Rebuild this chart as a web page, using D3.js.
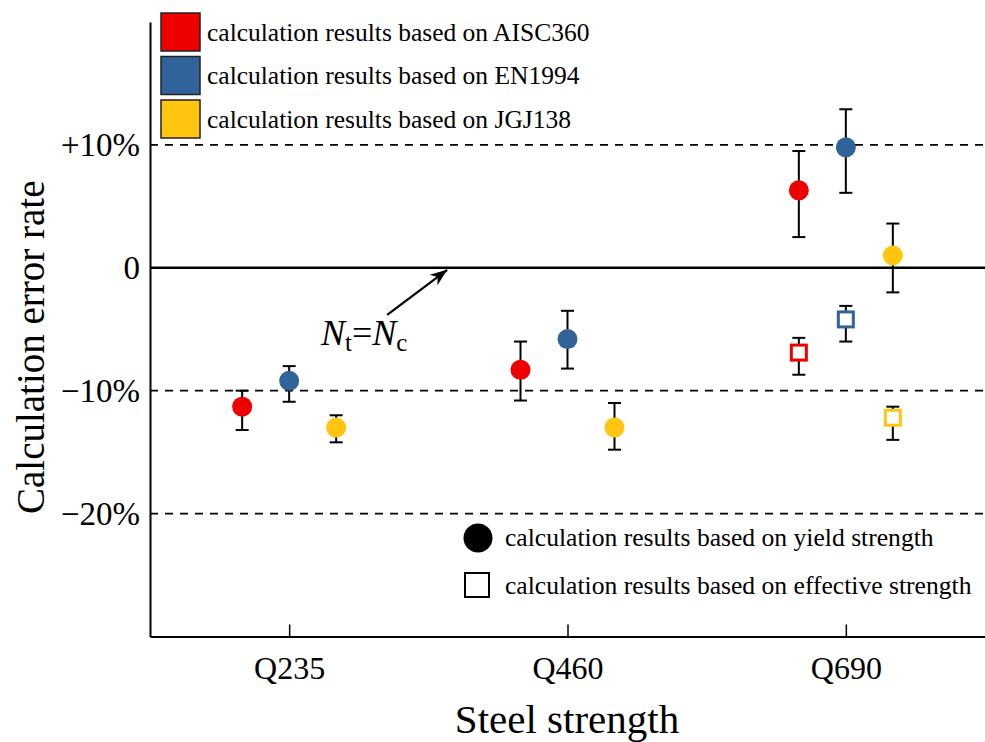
<!DOCTYPE html>
<html>
<head>
<meta charset="utf-8">
<script src="https://cdn.jsdelivr.net/npm/d3@7"></script>
<style>
  html, body { margin: 0; padding: 0; background: #fff; }
  svg { display: block; }
  text { font-family: "Liberation Serif", "Times New Roman", serif; fill: #000; }
</style>
</head>
<body>
<svg id="chart" width="985" height="742"></svg>
<script>
// Steel grades along the x axis
const categories = ["Q235", "Q460", "Q690"];
// Design codes compared at each grade
const codes = ["AISC360", "EN1994", "JGJ138"];
const codeColors = ["#ee0000", "#31639b", "#ffc50f"];
const legendLabels = [
  "calculation results based on AISC360",
  "calculation results based on EN1994",
  "calculation results based on JGJ138"
];

// Error rate (%) using yield strength: mean, lower and upper bound per grade
const yieldAISC360 = [-11.3, -8.3, 6.3];
const yieldAISC360Low = [-13.2, -10.8, 2.5];
const yieldAISC360High = [-10.0, -6.0, 9.5];

const yieldEN1994 = [-9.2, -5.8, 9.8];
const yieldEN1994Low = [-10.9, -8.2, 6.1];
const yieldEN1994High = [-8.0, -3.5, 12.9];

const yieldJGJ138 = [-13.0, -13.0, 1.0];
const yieldJGJ138Low = [-14.2, -14.8, -2.0];
const yieldJGJ138High = [-12.0, -11.0, 3.6];

// Error rate (%) using effective strength (Q690 only)
const effCategory = "Q690";
const effValues = [-6.9, -4.2, -12.2];
const effLow = [-8.7, -6.0, -14.0];
const effHigh = [-5.7, -3.1, -11.3];

// Y axis ticks
const yTickValues = [-20, -10, 0, 10];
const yTickLabels = ["\u221220%", "\u221210%", "0", "+10%"];
const dashedLevels = [-20, -10, 10];

const markerLegend = [
  "calculation results based on yield strength",
  "calculation results based on effective strength"
];

const yieldSeries = [
  { code: codes[0], v: yieldAISC360, lo: yieldAISC360Low, hi: yieldAISC360High },
  { code: codes[1], v: yieldEN1994, lo: yieldEN1994Low, hi: yieldEN1994High },
  { code: codes[2], v: yieldJGJ138, lo: yieldJGJ138Low, hi: yieldJGJ138High }
];

const svg = d3.select("#chart");
const plotLeft = 150, plotRight = 985, plotTop = 22, plotBottom = 636.5;

const x = d3.scalePoint().domain(categories).range([plotLeft, plotRight]).padding(0.5);
const sub = d3.scalePoint().domain(codes).range([-47, 47]);
const y = d3.scaleLinear().domain([-30, 20]).range([plotBottom, plotTop]);
const color = d3.scaleOrdinal().domain(codes).range(codeColors);

// Reference lines
svg.append("g").selectAll("line").data(dashedLevels).join("line")
  .attr("x1", plotLeft).attr("x2", plotRight)
  .attr("y1", d => y(d)).attr("y2", d => y(d))
  .attr("stroke", "#000").attr("stroke-width", 1.8)
  .attr("stroke-dasharray", "8,7");

svg.append("line")
  .attr("x1", plotLeft).attr("x2", plotRight)
  .attr("y1", y(0)).attr("y2", y(0))
  .attr("stroke", "#000").attr("stroke-width", 2.5);

// Axes
const yAxis = d3.axisLeft(y)
  .tickValues(yTickValues)
  .tickFormat((d, i) => yTickLabels[i])
  .tickSize(0).tickSizeOuter(0).tickPadding(10);
const gy = svg.append("g").attr("transform", `translate(${plotLeft},0)`).call(yAxis);
gy.select(".domain").attr("stroke", "#000").attr("stroke-width", 2);
gy.selectAll("text").style("font-family", "Liberation Serif, Times New Roman, serif")
  .style("font-size", "33px");

const xAxis = d3.axisBottom(x).tickSize(-12).tickSizeOuter(0).tickPadding(20);
const gx = svg.append("g").attr("transform", `translate(0,${plotBottom})`).call(xAxis);
gx.select(".domain").attr("stroke", "#000").attr("stroke-width", 2);
gx.selectAll(".tick line").attr("stroke", "#000").attr("stroke-width", 1.5);
gx.selectAll("text").style("font-family", "Liberation Serif, Times New Roman, serif")
  .style("font-size", "32px");

// Axis titles
svg.append("text")
  .attr("transform", `translate(44,${(y(-20) + y(10)) / 2 + 18}) rotate(-90)`)
  .attr("text-anchor", "middle")
  .style("font-size", "39px")
  .text("Calculation error rate");

svg.append("text")
  .attr("x", (plotLeft + plotRight) / 2 - 0.5).attr("y", 733)
  .attr("text-anchor", "middle")
  .style("font-size", "41px")
  .text("Steel strength");

// Error bars
const capHalf = 6.5;
function errorBar(g, cx, lo, hi) {
  g.append("line").attr("x1", cx).attr("x2", cx)
    .attr("y1", y(lo)).attr("y2", y(hi));
  g.append("line").attr("x1", cx - capHalf).attr("x2", cx + capHalf)
    .attr("y1", y(lo)).attr("y2", y(lo));
  g.append("line").attr("x1", cx - capHalf).attr("x2", cx + capHalf)
    .attr("y1", y(hi)).attr("y2", y(hi));
}

const bars = svg.append("g").attr("stroke", "#000").attr("stroke-width", 2);
yieldSeries.forEach(s => {
  categories.forEach((c, i) => errorBar(bars, x(c) + sub(s.code), s.lo[i], s.hi[i]));
});
codes.forEach((code, i) => errorBar(bars, x(effCategory) + sub(code), effLow[i], effHigh[i]));

// Yield-strength markers (filled circles)
const circles = svg.append("g");
yieldSeries.forEach(s => {
  circles.selectAll(null).data(categories).join("circle")
    .attr("cx", c => x(c) + sub(s.code))
    .attr("cy", (c, i) => y(s.v[i]))
    .attr("r", 10)
    .attr("fill", color(s.code));
});

// Effective-strength markers (hollow squares)
const side = 15;
svg.append("g").selectAll("rect").data(codes).join("rect")
  .attr("x", d => x(effCategory) + sub(d) - side / 2)
  .attr("y", (d, i) => y(effValues[i]) - side / 2)
  .attr("width", side).attr("height", side)
  .attr("fill", "#fff")
  .attr("stroke", d => color(d))
  .attr("stroke-width", 3);

// Colour legend
const leg = svg.append("g");
codes.forEach((code, i) => {
  const ly = 13 + i * 43.5;
  leg.append("rect").attr("x", 161).attr("y", ly).attr("width", 39).attr("height", 38)
    .attr("fill", color(code)).attr("stroke", "#222").attr("stroke-width", 1.5);
  leg.append("text").attr("x", 207).attr("y", ly + 27.5)
    .style("font-size", "25.5px").text(legendLabels[i]);
});

// Marker legend
const mleg = svg.append("g");
mleg.append("circle").attr("cx", 478).attr("cy", 538).attr("r", 14.5).attr("fill", "#000");
mleg.append("text").attr("x", 505).attr("y", 546).style("font-size", "25.6px").text(markerLegend[0]);
mleg.append("rect").attr("x", 465).attr("y", 573).attr("width", 24).attr("height", 24)
  .attr("fill", "#fff").attr("stroke", "#000").attr("stroke-width", 2);
mleg.append("text").attr("x", 505).attr("y", 594).style("font-size", "25.6px").text(markerLegend[1]);

// Annotation of the zero line
svg.append("defs").append("marker")
  .attr("id", "arrowHead")
  .attr("markerUnits", "userSpaceOnUse")
  .attr("viewBox", "-18 -8 20 16")
  .attr("markerWidth", 20).attr("markerHeight", 16)
  .attr("refX", 0).attr("refY", 0)
  .attr("orient", "auto")
  .append("path")
  .attr("d", "M0,0 L-17,-6.5 L-12,0 L-17,6.5 Z")
  .attr("fill", "#000");

const tipX = x("Q235") + 158, tipY = y(0) + 2;
svg.append("line")
  .attr("x1", tipX - 60).attr("y1", tipY + 45)
  .attr("x2", tipX).attr("y2", tipY)
  .attr("stroke", "#000").attr("stroke-width", 2.2)
  .attr("marker-end", "url(#arrowHead)");

const ann = svg.append("text").attr("x", 321).attr("y", 345).style("font-size", "36px");
ann.append("tspan").style("font-style", "italic").text("N");
ann.append("tspan").attr("dy", 6).style("font-size", "25px").text("t");
ann.append("tspan").attr("dy", -6).text("=");
ann.append("tspan").style("font-style", "italic").text("N");
ann.append("tspan").attr("dy", 6).style("font-size", "25px").text("c");
</script>
</body>
</html>
